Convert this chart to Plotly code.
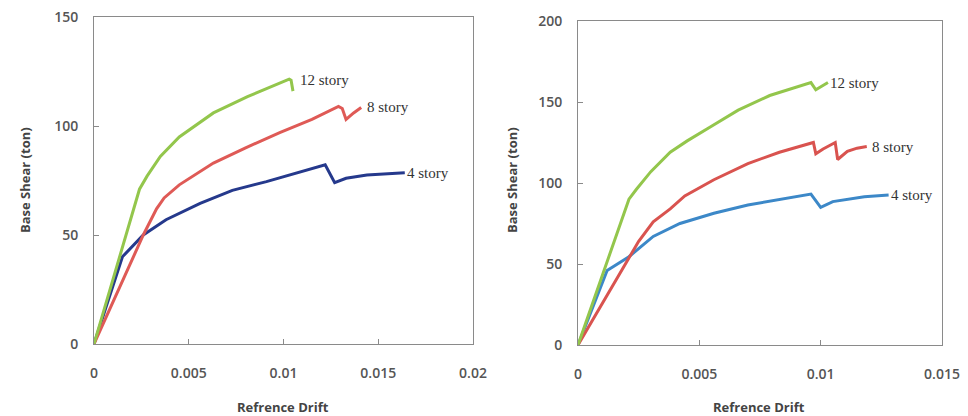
import plotly.graph_objects as go

# ---------------- data (left panel) ----------------
L_x_4 = [0, 0.0015, 0.0026, 0.0038, 0.0056, 0.0073, 0.0091, 0.0109, 0.0122, 0.0127, 0.0133, 0.0144, 0.0164]
L_y_4 = [0, 40, 50, 57, 64.5, 70.5, 74.5, 79, 82.2, 74, 76, 77.5, 78.5]
L_x_8 = [0, 0.0026, 0.0033, 0.0037, 0.0045, 0.0063, 0.0080, 0.0098, 0.0115, 0.0129, 0.0131, 0.0133, 0.0137, 0.0141]
L_y_8 = [0, 50, 62, 67, 73, 83, 90, 97, 103, 109, 108, 103, 106, 108.5]
L_x_12 = [0, 0.0024, 0.0028, 0.0035, 0.0045, 0.0063, 0.0081, 0.0098, 0.0103, 0.0104, 0.0105]
L_y_12 = [0, 71, 77, 86, 95, 106, 113.5, 119.5, 121.5, 121, 116]

# ---------------- data (right panel) ----------------
R_x_4 = [0, 0.0012, 0.0021, 0.0031, 0.0042, 0.0056, 0.0070, 0.0083, 0.0096, 0.0100, 0.0105, 0.0118, 0.0128]
R_y_4 = [0, 46, 54.5, 67, 75, 81.3, 86.4, 90, 93.2, 85, 88.5, 91.5, 92.6]
R_x_8 = [0, 0.0014, 0.0025, 0.0031, 0.0038, 0.0044, 0.0056, 0.0070, 0.0083, 0.0097, 0.0098, 0.0101, 0.0106, 0.0107, 0.0111, 0.0115, 0.0119]
R_y_8 = [0, 36, 64, 76, 84, 92, 102, 112, 119, 125, 118, 121, 125, 114.5, 119.5, 121.5, 122.5]
R_x_12 = [0, 0.0021, 0.0024, 0.0030, 0.0038, 0.0045, 0.0055, 0.0066, 0.0079, 0.0096, 0.0098, 0.0100, 0.0103]
R_y_12 = [0, 90, 96, 107, 119, 126, 135, 145, 154, 162, 157.5, 159.5, 162]

L_xticks = [0, 0.005, 0.01, 0.015, 0.02]
L_xtext = ["0", "0.005", "0.01", "0.015", "0.02"]
L_yticks = [0, 50, 100, 150]
R_xticks = [0, 0.005, 0.01, 0.015]
R_xtext = ["0", "0.005", "0.01", "0.015"]
R_yticks = [0, 50, 100, 150, 200]

series_names = ["4 story", "8 story", "12 story"]
L_colors = ["#25398c", "#df5a56", "#93c64c"]
R_colors = ["#3c88c8", "#d9534f", "#93c64c"]

fig = go.Figure()

L_data = [(L_x_4, L_y_4), (L_x_8, L_y_8), (L_x_12, L_y_12)]
R_data = [(R_x_4, R_y_4), (R_x_8, R_y_8), (R_x_12, R_y_12)]

for (xs, ys), c, n in zip(L_data, L_colors, series_names):
    fig.add_trace(go.Scatter(x=xs, y=ys, mode="lines", name=n, line=dict(color=c, width=3),
                             xaxis="x", yaxis="y", showlegend=False))
for (xs, ys), c, n in zip(R_data, R_colors, series_names):
    fig.add_trace(go.Scatter(x=xs, y=ys, mode="lines", name=n, line=dict(color=c, width=3),
                             xaxis="x2", yaxis="y2", showlegend=False))

tickfont = dict(family="Open Sans, Arial, sans-serif", size=14, color="#555555", weight=600)
axis_common = dict(showline=True, linecolor="#8a8a8a", linewidth=1, mirror=True,
                   ticks="inside", ticklen=5, tickcolor="#8a8a8a", showgrid=False,
                   zeroline=False, tickfont=tickfont, automargin=False)

fig.update_layout(
    width=968, height=416,
    margin=dict(l=0, r=0, t=0, b=0),
    paper_bgcolor="white", plot_bgcolor="white",
    xaxis=dict(domain=[94/968, 473/968], range=[0, 0.02], tickvals=L_xticks, ticktext=L_xtext,
               ticklabelstandoff=16, anchor="y", **axis_common),
    yaxis=dict(domain=[72/416, 399/416], range=[0, 150], tickvals=L_yticks,
               ticklabelstandoff=12, anchor="x", **axis_common),
    xaxis2=dict(domain=[578/968, 942/968], range=[0, 0.015], tickvals=R_xticks, ticktext=R_xtext,
                ticklabelstandoff=16, anchor="y2", **axis_common),
    yaxis2=dict(domain=[71/416, 395/416], range=[0, 200], tickvals=R_yticks,
                ticklabelstandoff=12, anchor="x2", **axis_common),
)

labfont = dict(family="Liberation Serif, Times New Roman, serif", size=15, color="#333333")
L_lab_pos = [(L_x_4[-1], L_y_4[-1]), (L_x_8[-1], L_y_8[-1]), (L_x_12[-1], L_y_12[-1] + 5)]
R_lab_pos = [(R_x_4[-1], R_y_4[-1]), (R_x_8[-1], R_y_8[-1]), (R_x_12[-1], R_y_12[-1])]
L_shift = [0, 4, 5]
R_shift = [0, 3, 0]
for (xv, yv), n, s in zip(L_lab_pos, series_names, L_shift):
    fig.add_annotation(x=xv, y=yv, xref="x", yref="y", text=n, showarrow=False,
                       xanchor="left", yanchor="middle", xshift=s, font=labfont)
for (xv, yv), n, s in zip(R_lab_pos, series_names, R_shift):
    fig.add_annotation(x=xv, y=yv, xref="x2", yref="y2", text=n, showarrow=False,
                       xanchor="left", yanchor="middle", xshift=s, font=labfont)

titlefont = dict(family="Open Sans, Arial, sans-serif", size=13, color="#444444", weight="bold")
fig.add_annotation(x=283/968, y=9/416, xref="paper", yref="paper", text="Refrence Drift",
                   showarrow=False, xanchor="center", yanchor="middle", font=titlefont)
fig.add_annotation(x=759/968, y=9/416, xref="paper", yref="paper", text="Refrence Drift",
                   showarrow=False, xanchor="center", yanchor="middle", font=titlefont)
fig.add_annotation(x=25/968, y=236/416, xref="paper", yref="paper", text="Base Shear (ton)",
                   showarrow=False, textangle=-90, xanchor="center", yanchor="middle", font=titlefont)
fig.add_annotation(x=512/968, y=236/416, xref="paper", yref="paper", text="Base Shear (ton)",
                   showarrow=False, textangle=-90, xanchor="center", yanchor="middle", font=titlefont)

fig.write_html("out.html", config={"displayModeBar": False},
               post_script="document.body.style.margin='0';document.body.style.overflow='hidden';")
